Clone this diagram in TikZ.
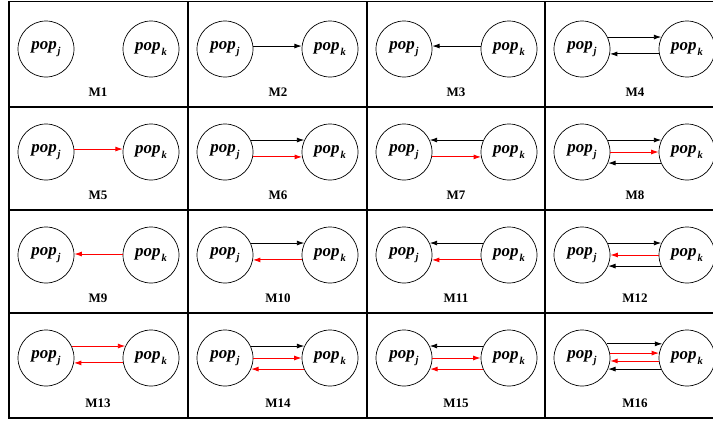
\documentclass[tikz,border=0pt]{standalone}
\usepackage{fontspec}
\setmainfont{Liberation Serif}
\usetikzlibrary{arrows.meta}

\newcommand{\popname}[1]{\textbf{\textit{pop}}\kern0.8pt\raisebox{-0.6ex}{\fontsize{10.5}{10.5}\selectfont\textbf{\textit{#1}}}}

\tikzset{
  pop/.style={circle,draw,line width=0.7pt,minimum size=56pt,inner sep=0pt,font=\fontsize{17}{17}\selectfont},
  tag/.style={font=\bfseries\fontsize{13}{13}\selectfont},
  blk/.style={line width=0.9pt,-{Latex[length=7.5pt,width=5pt]}},
  rd/.style={blk,red},
  grid line/.style={line width=1.9pt}
}

\begin{document}
\begin{tikzpicture}[x=1pt,y=-1pt]
                          \useasboundingbox (0,0) rectangle (713,423);
                          \fill[white] (0,0) rectangle (713,423);
                          \clip (0,0) rectangle (713,423);

                          % frame and cells
                          \draw[grid line] (9,1.5) rectangle (724,418);
                          \draw[grid line] (188,1.5) -- (188,418);
                          \draw[grid line] (367,1.5) -- (367,418);
                          \draw[grid line] (545,1.5) -- (545,418);
                          \draw[grid line] (9,107) -- (724,107);
                          \draw[grid line] (9,210) -- (724,210);
                          \draw[grid line] (9,313) -- (724,313);

                          % row 1
                          \node[pop] (j1) at (46,49) {\popname{j}};
                          \node[pop] (k1) at (151,49) {\popname{k}};
                          \node[tag] (m1) at (98,92) {M1};
                          \node[pop] (j2) at (225,49) {\popname{j}};
                          \node[pop] (k2) at (330,49) {\popname{k}};
                          \node[tag] (m2) at (278,92) {M2};
                          \node[pop] (j3) at (404,49) {\popname{j}};
                          \node[pop] (k3) at (509,49) {\popname{k}};
                          \node[tag] (m3) at (456,92) {M3};
                          \node[pop] (j4) at (582,49) {\popname{j}};
                          \node[pop] (k4) at (687,49) {\popname{k}};
                          \node[tag] (m4) at (635,92) {M4};

                          \draw[blk] (j2.6) -- (k2.174);
                          \draw[blk] (k3.174) -- (j3.6);
                          \draw[blk] (j4.25) -- (k4.155);
                          \draw[blk] (k4.190) -- (j4.-10);

                          % row 2
                          \node[pop] (j5) at (46,152) {\popname{j}};
                          \node[pop] (k5) at (151,152) {\popname{k}};
                          \node[tag] (m5) at (98,195) {M5};
                          \node[pop] (j6) at (225,152) {\popname{j}};
                          \node[pop] (k6) at (330,152) {\popname{k}};
                          \node[tag] (m6) at (278,195) {M6};
                          \node[pop] (j7) at (404,152) {\popname{j}};
                          \node[pop] (k7) at (509,152) {\popname{k}};
                          \node[tag] (m7) at (456,195) {M7};
                          \node[pop] (j8) at (582,152) {\popname{j}};
                          \node[pop] (k8) at (687,152) {\popname{k}};
                          \node[tag] (m8) at (635,195) {M8};

                          \draw[rd] (j5.6) -- (k5.174);
                          \draw[blk] (j6.25) -- (k6.155);
                          \draw[rd] (j6.-10) -- (k6.190);
                          \draw[blk] (k7.155) -- (j7.25);
                          \draw[rd] (j7.-10) -- (k7.190);
                          \draw[blk] (j8.25) -- (k8.155);
                          \draw[rd] (j8.0) -- (k8.180);
                          \draw[blk] (k8.203) -- (j8.-23);

                          % row 3
                          \node[pop] (j9) at (46,255) {\popname{j}};
                          \node[pop] (k9) at (151,255) {\popname{k}};
                          \node[tag] (m9) at (98,298) {M9};
                          \node[pop] (j10) at (225,255) {\popname{j}};
                          \node[pop] (k10) at (330,255) {\popname{k}};
                          \node[tag] (m10) at (278,298) {M10};
                          \node[pop] (j11) at (404,255) {\popname{j}};
                          \node[pop] (k11) at (509,255) {\popname{k}};
                          \node[tag] (m11) at (456,298) {M11};
                          \node[pop] (j12) at (582,255) {\popname{j}};
                          \node[pop] (k12) at (687,255) {\popname{k}};
                          \node[tag] (m12) at (635,298) {M12};

                          \draw[rd] (k9.178) -- (j9.2);
                          \draw[blk] (j10.25) -- (k10.155);
                          \draw[rd] (k10.190) -- (j10.-10);
                          \draw[blk] (k11.155) -- (j11.25);
                          \draw[rd] (k11.190) -- (j11.-10);
                          \draw[blk] (j12.25) -- (k12.155);
                          \draw[rd] (k12.180) -- (j12.0);
                          \draw[blk] (k12.203) -- (j12.-23);

                          % row 4
                          \node[pop] (j13) at (46,358) {\popname{j}};
                          \node[pop] (k13) at (151,358) {\popname{k}};
                          \node[tag] (m13) at (98,403) {M13};
                          \node[pop] (j14) at (225,358) {\popname{j}};
                          \node[pop] (k14) at (330,358) {\popname{k}};
                          \node[tag] (m14) at (278,403) {M14};
                          \node[pop] (j15) at (404,358) {\popname{j}};
                          \node[pop] (k15) at (509,358) {\popname{k}};
                          \node[tag] (m15) at (456,403) {M15};
                          \node[pop] (j16) at (582,358) {\popname{j}};
                          \node[pop] (k16) at (687,358) {\popname{k}};
                          \node[tag] (m16) at (635,403) {M16};

                          \draw[rd] (j13.25) -- (k13.155);
                          \draw[rd] (k13.190) -- (j13.-10);
                          \draw[blk] (j14.25) -- (k14.155);
                          \draw[rd] (j14.0) -- (k14.180);
                          \draw[rd] (k14.203) -- (j14.-23);
                          \draw[blk] (k15.155) -- (j15.25);
                          \draw[rd] (j15.0) -- (k15.180);
                          \draw[rd] (k15.203) -- (j15.-23);
                          \draw[blk] (j16.30) -- (k16.150);
                          \draw[rd] (j16.10) -- (k16.170);
                          \draw[rd] (k16.186) -- (j16.-6);
                          \draw[blk] (k16.203) -- (j16.-23);
                          \end{tikzpicture}
\end{document}
